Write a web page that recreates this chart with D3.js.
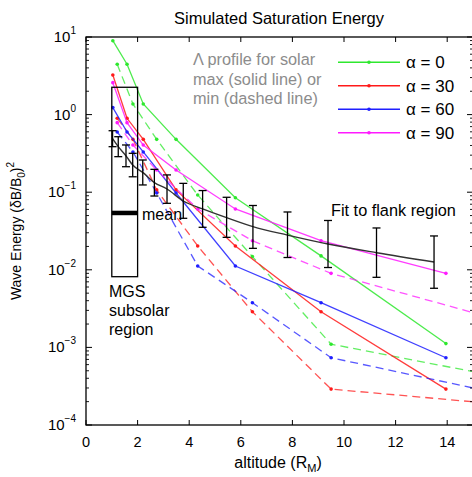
<!DOCTYPE html>
<html>
<head>
<meta charset="utf-8">
<script src="https://cdn.jsdelivr.net/npm/d3@7"></script>
<style>
  body { margin: 0; background: #fff; }
  svg { font-family: "Liberation Sans", Arial, sans-serif; }
</style>
</head>
<body>
<svg width="472" height="477"></svg>
<script>
// altitudes (R_M) of the model points, solid = solar max, dashed = solar min
const altSolid  = [1.04, 1.59, 2.22, 3.49, 5.79, 9.11, 13.95];
const altDashed = [1.21, 1.82, 2.74, 4.33, 6.45, 9.50, 16];

const greenSolid    = [8.96, 4.45, 1.37, 0.48, 0.085, 0.0151, 0.00112];
const greenDashed   = [4.45, 1.37, 0.48, 0.092, 0.0148, 0.0011, 0.00042];
const redSolid      = [3.24, 0.896, 0.48, 0.107, 0.0203, 0.00288, 0.00029];
const redDashed     = [0.896, 0.48, 0.107, 0.0203, 0.00288, 0.00029, 0.000186];
const blueSolid     = [1.23, 0.597, 0.33, 0.0977, 0.0112, 0.00377, 0.000736];
const blueDashed    = [0.597, 0.33, 0.0977, 0.0112, 0.00377, 0.000736, 0.000255];
const magentaSolid  = [2.58, 0.787, 0.405, 0.193, 0.0608, 0.0237, 0.0090];
const magentaDashed = [0.787, 0.405, 0.193, 0.0608, 0.0237, 0.0090, 0.00227];

// MGS observations with error bars + fit to flank region
const obsAlt  = [1.03, 1.25, 1.55, 1.81, 2.20, 2.65, 3.14, 3.77, 4.52, 5.45, 6.47, 7.81, 9.38, 11.26, 13.49];
const obsHigh = [0.620, 0.519, 0.406, 0.317, 0.260, 0.197, 0.167, 0.130, 0.105, 0.086, 0.0674, 0.0556, 0.0432, 0.0346, 0.0273];
const obsLow  = [0.386, 0.287, 0.213, 0.158, 0.124, 0.0893, 0.0719, 0.0461, 0.0353, 0.0262, 0.0189, 0.0144, 0.0107, 0.0080, 0.00578];
const fitE    = [0.49, 0.386, 0.294, 0.224, 0.18, 0.133, 0.11, 0.077, 0.061, 0.047, 0.036, 0.028, 0.0215, 0.0166, 0.0126];

// subsolar box
const boxAlt = [1, 2];
const boxE = [0.00815, 2.25];
const boxMean = 0.054;

const legendLabels = ["α = 0", "α = 30", "α = 60", "α = 90"];
const xTicks = [0, 2, 4, 6, 8, 10, 12, 14];
const yExps = [1, 0, -1, -2, -3, -4];

const colors = ["#2ee82e", "#ff1a1a", "#1f1fff", "#ff1aff"];
const series = [
  { solid: greenSolid, dashed: greenDashed },
  { solid: redSolid, dashed: redDashed },
  { solid: blueSolid, dashed: blueDashed },
  { solid: magentaSolid, dashed: magentaDashed }
];

const margin = { top: 37, left: 86 },
      width = 387, height = 388;

const svg = d3.select("svg");
const g = svg.append("g").attr("transform", `translate(${margin.left},${margin.top})`);

const x = d3.scaleLinear().domain([0, 15]).range([0, width]);
const y = d3.scaleLog().domain([1e-4, 10]).range([height, 0]);

g.append("clipPath").attr("id", "clip")
  .append("rect").attr("width", width).attr("height", height);

const plot = g.append("g").attr("clip-path", "url(#clip)");

const line = d3.line().x(d => x(d[0])).y(d => y(d[1]));

// model lines
series.forEach((s, i) => {
  const dPts = altDashed.map((a, j) => [a, s.dashed[j]]);
  const sPts = altSolid.map((a, j) => [a, s.solid[j]]);
  plot.append("path").datum(dPts)
    .attr("d", line).attr("fill", "none")
    .attr("stroke", colors[i]).attr("stroke-width", 1.3)
    .attr("stroke-opacity", 0.75)
    .attr("stroke-dasharray", "8,5");
  plot.selectAll(null).data(dPts).enter().append("circle")
    .attr("cx", d => x(d[0])).attr("cy", d => y(d[1]))
    .attr("r", 1.8).attr("fill", colors[i]);
  plot.append("path").datum(sPts)
    .attr("d", line).attr("fill", "none")
    .attr("stroke", colors[i]).attr("stroke-width", 1.3)
    .attr("stroke-opacity", 0.85);
  plot.selectAll(null).data(sPts).enter().append("circle")
    .attr("cx", d => x(d[0])).attr("cy", d => y(d[1]))
    .attr("r", 1.8).attr("fill", colors[i]);
});

// fit line
plot.append("path").datum(obsAlt.map((a, j) => [a, fitE[j]]))
  .attr("d", d3.line().x(d => x(d[0])).y(d => y(d[1])).curve(d3.curveMonotoneX))
  .attr("fill", "none").attr("stroke", "#333").attr("stroke-width", 1.4);

// error bars
const eb = plot.selectAll(".eb").data(obsAlt.map((a, j) => ({ a, hi: obsHigh[j], lo: obsLow[j] })))
  .enter().append("g").attr("stroke", "#000").attr("stroke-width", 1.3);
eb.append("line").attr("x1", d => x(d.a)).attr("x2", d => x(d.a))
  .attr("y1", d => y(d.hi)).attr("y2", d => y(d.lo));
eb.append("line").attr("x1", d => x(d.a) - 4).attr("x2", d => x(d.a) + 4)
  .attr("y1", d => y(d.hi)).attr("y2", d => y(d.hi));
eb.append("line").attr("x1", d => x(d.a) - 4).attr("x2", d => x(d.a) + 4)
  .attr("y1", d => y(d.lo)).attr("y2", d => y(d.lo));

// MGS subsolar box and mean
plot.append("rect")
  .attr("x", x(boxAlt[0])).attr("y", y(boxE[1]))
  .attr("width", x(boxAlt[1]) - x(boxAlt[0])).attr("height", y(boxE[0]) - y(boxE[1]))
  .attr("fill", "none").attr("stroke", "#000").attr("stroke-width", 1.3);
plot.append("line")
  .attr("x1", x(boxAlt[0])).attr("x2", x(boxAlt[1]))
  .attr("y1", y(boxMean)).attr("y2", y(boxMean))
  .attr("stroke", "#000").attr("stroke-width", 4.5);

// axes frame and ticks
g.append("rect").attr("width", width).attr("height", height)
  .attr("fill", "none").attr("stroke", "#000").attr("stroke-width", 1.3);

const xt = g.append("g");
xTicks.forEach(t => {
  xt.append("line").attr("x1", x(t)).attr("x2", x(t)).attr("y1", height).attr("y2", height - 5).attr("stroke", "#000");
  xt.append("line").attr("x1", x(t)).attr("x2", x(t)).attr("y1", 0).attr("y2", 5).attr("stroke", "#000");
  xt.append("text").attr("x", x(t)).attr("y", height + 22)
    .attr("text-anchor", "middle").attr("font-size", 14.5).text(t);
});

const minor = [];
for (let e = -4; e < 1; e++) for (let m = 2; m <= 9; m++) minor.push(m * Math.pow(10, e));
const yt = g.append("g");
minor.forEach(v => {
  yt.append("line").attr("x1", 0).attr("x2", 3).attr("y1", y(v)).attr("y2", y(v)).attr("stroke", "#000").attr("stroke-width", 0.9);
  yt.append("line").attr("x1", width).attr("x2", width - 3).attr("y1", y(v)).attr("y2", y(v)).attr("stroke", "#000").attr("stroke-width", 0.9);
});
yExps.forEach(e => {
  const v = Math.pow(10, e);
  yt.append("line").attr("x1", 0).attr("x2", 6).attr("y1", y(v)).attr("y2", y(v)).attr("stroke", "#000");
  yt.append("line").attr("x1", width).attr("x2", width - 6).attr("y1", y(v)).attr("y2", y(v)).attr("stroke", "#000");
  const t = yt.append("text").attr("x", -10).attr("y", y(v) + 5)
    .attr("text-anchor", "end").attr("font-size", 15);
  t.append("tspan").text("10");
  t.append("tspan").attr("font-size", 10).attr("dy", -8).text(e < 0 ? "\u2212" + (-e) : e);
});

// axis labels
const xl = svg.append("text").attr("x", 278).attr("y", 468)
  .attr("text-anchor", "middle").attr("font-size", 16);
xl.append("tspan").text("altitude (R");
xl.append("tspan").attr("font-size", 11).attr("dy", 4).text("M");
xl.append("tspan").attr("dy", -4).text(")");

const yl = svg.append("text").attr("transform", "translate(21,231) rotate(-90)")
  .attr("text-anchor", "middle").attr("font-size", 14);
yl.append("tspan").text("Wave Energy (\u03b4B/B");
yl.append("tspan").attr("font-size", 10).attr("dy", 4).text("0");
yl.append("tspan").attr("dy", -4).text(")");
yl.append("tspan").attr("font-size", 10).attr("dy", -7).text("2");

// title
svg.append("text").attr("x", 279).attr("y", 24)
  .attr("text-anchor", "middle").attr("font-size", 16.5).text("Simulated Saturation Energy");

// annotations
["\u039b profile for solar", "max (solid line) or", "min (dashed line)"].forEach((s, i) => {
  svg.append("text").attr("x", 193).attr("y", 65 + i * 19.7)
    .attr("font-size", 16.3).attr("fill", "#8c8c8c").text(s);
});
svg.append("text").attr("x", 142).attr("y", 220).attr("font-size", 16).text("mean");
["MGS", "subsolar", "region"].forEach((s, i) => {
  svg.append("text").attr("x", 109).attr("y", 297 + i * 19).attr("font-size", 16).text(s);
});
svg.append("text").attr("x", 331).attr("y", 216).attr("font-size", 16.3).text("Fit to flank region");

// legend
const lg = svg.append("g");
legendLabels.forEach((lab, i) => {
  const ly = 62.3 + i * 23.5;
  lg.append("line").attr("x1", 338).attr("x2", 400).attr("y1", ly).attr("y2", ly)
    .attr("stroke", colors[i]).attr("stroke-width", 1.5);
  lg.append("circle").attr("cx", 369).attr("cy", ly).attr("r", 1.8).attr("fill", colors[i]);
  lg.append("text").attr("x", 406).attr("y", ly + 6).attr("font-size", 17).text(lab);
});
</script>
</body>
</html>
